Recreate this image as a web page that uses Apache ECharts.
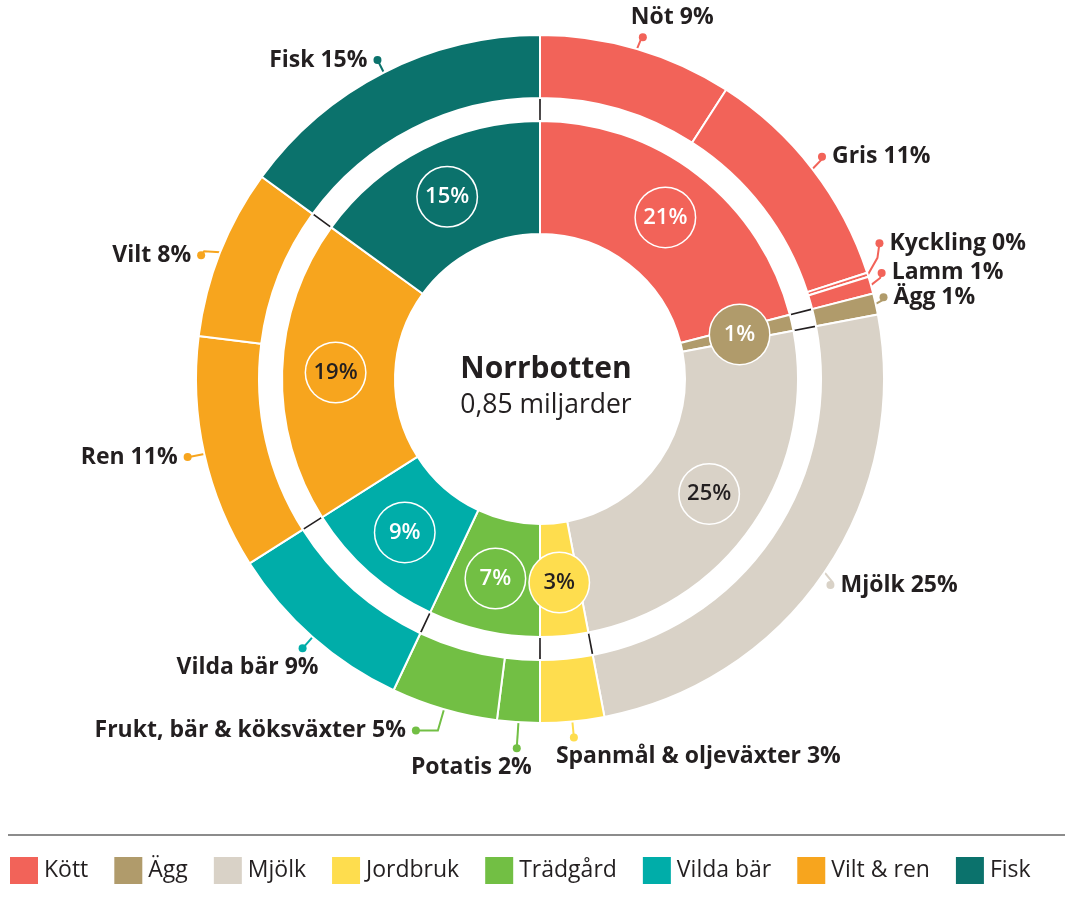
<!DOCTYPE html>
<html>
<head>
<meta charset="utf-8">
<title>Norrbotten</title>
<script src="https://cdn.jsdelivr.net/npm/echarts@6/dist/echarts.min.js"></script>
<style>
	html, body { margin: 0; padding: 0; background: #fff; }
	#main { width: 1065px; height: 900px; }
</style>
</head>
<body>
<div id="main"></div>
<script>
	// inre ringen - huvudgrupper
	var groupNames = ['Kött', 'Ägg', 'Mjölk', 'Jordbruk', 'Trädgård', 'Vilda bär', 'Vilt & ren', 'Fisk'];
	var groupValues = [21, 1, 25, 3, 7, 9, 19, 15];
	var groupColors = ['#f26359', '#b09b6b', '#d9d2c7', '#fedd4e', '#72bf44', '#00ada9', '#f7a51e', '#0b726c'];
	var groupTextColors = ['#fff', '#fff', '#231f20', '#231f20', '#fff', '#fff', '#231f20', '#fff'];

	// yttre ringen - undergrupper
	var itemNames = ['Nöt', 'Gris', 'Kyckling', 'Lamm', 'Ägg', 'Mjölk', 'Spanmål & oljeväxter', 'Potatis', 'Frukt, bär & köksväxter', 'Vilda bär', 'Ren', 'Vilt', 'Fisk'];
	var itemValues = [9.1, 10.9, 0.2, 0.8, 1, 25, 3, 2, 5, 9, 11, 8, 15];
	var itemGroup = [0, 0, 0, 0, 1, 2, 3, 4, 4, 5, 6, 6, 7];

	// etiketternas placering runt yttre ringen
	var labelSide = ['top', 'right', 'right', 'right', 'right', 'right', 'bottomL', 'bottomR', 'left', 'bottomR', 'left', 'left', 'left'];
	var lineLen = [10, 12, 8, 8, 8, 12, 16, 26, 22, 15, 14, 14, 14];
	var lineLen2 = [0, 0, 0, 0, 0, 0, 0, 0, 22, 0, 0, 0, 0];
	var textOffset = [12, 0, 0, 0, 0, 0, 18, 15, 0, 16, 0, 0, 0];
	var labelShift = [[3, -2], [0, -5], [4, -29], [3, -10], [0, -5], [-4, 6], [0, 0], [0, 0], [0, 0], [0, 0], [-3, 0], [-6, 8], [0, 0]];

	var FONT = 'Open Sans';
	var TEXT = '#231f20';

	var rich = {
		t: { fontFamily: FONT, fontSize: 23, fontWeight: 'bold', color: TEXT, lineHeight: 31 },
		g: { width: 6, height: 8, lineHeight: 8, fontSize: 1 }
	};
	for (var i = 0; i < itemNames.length; i++) {
		rich['d' + i] = { width: 8, height: 8, lineHeight: 8, fontSize: 1, borderRadius: 4, backgroundColor: groupColors[itemGroup[i]] };
		if (textOffset[i] > 0) {
			rich['s' + i] = { width: textOffset[i] - 4, height: 8, lineHeight: 8, fontSize: 1 };
		}
	}

	function outerLabel(p) {
		var i = p.dataIndex;
		var txt = '{t|' + itemNames[i] + ' ' + Math.round(itemValues[i]) + '%}';
		var dot = '{d' + i + '| }';
		var sp = '{s' + i + '| }';
		switch (labelSide[i]) {
			case 'right': return dot + '{g| }' + txt;
			case 'left': return txt + '{g| }' + dot;
			case 'top': return txt + '\n' + sp + dot;
			case 'bottomL': return sp + dot + '\n' + txt;
			case 'bottomR': return dot + sp + '\n' + txt;
		}
		return txt;
	}

	var innerData = groupNames.map(function(n, i) {
		return {
			name: n,
			value: groupValues[i],
			itemStyle: { color: groupColors[i] },
			label: { backgroundColor: groupColors[i], color: groupTextColors[i] }
		};
	});

	var outerData = itemNames.map(function(n, i) {
		return {
			name: n,
			value: itemValues[i],
			itemStyle: { color: groupColors[itemGroup[i]] },
			labelLine: { length: lineLen[i], length2: lineLen2[i] }
		};
	});

	var myChart = echarts.init(document.getElementById('main'));
	var center = [540, 379];

	option = {
		animation: false,
		title: {
			text: 'Norrbotten',
			subtext: '0,85 miljarder',
			left: 541,
			top: 349,
			textAlign: 'center',
			itemGap: 8,
			textStyle: { fontFamily: FONT, fontSize: 30, fontWeight: 'bold', color: TEXT },
			subtextStyle: { fontFamily: FONT, fontSize: 26.5, color: TEXT }
		},
		legend: {
			data: groupNames,
			left: 8,
			top: 855,
			padding: 0,
			icon: 'rect',
			itemWidth: 30,
			itemHeight: 29,
			itemGap: 24,
			selectedMode: false,
			textStyle: { fontFamily: FONT, fontSize: 23, color: TEXT }
		},
		graphic: [{
			type: 'line',
			shape: { x1: 8, y1: 835, x2: 1065, y2: 835 },
			style: { stroke: '#8c8c8c', lineWidth: 2 }
		}],
		series: [
			// mörk ring under mellanrummet, syns som små streck mellan grupperna
			{
				type: 'pie',
				center: center,
				radius: [259, 280],
				silent: true,
				label: { show: false },
				labelLine: { show: false },
				data: [{ value: 1, itemStyle: { color: TEXT } }]
			},
			{
				type: 'pie',
				center: center,
				radius: [256, 283],
				silent: true,
				padAngle: 0.35,
				label: { show: false },
				labelLine: { show: false },
				itemStyle: { color: '#fff' },
				data: groupValues.map(function(v) { return { value: v }; })
			},
			{
				name: 'Grupp',
				type: 'pie',
				center: center,
				radius: [145, 258],
				silent: true,
				itemStyle: { borderColor: '#fff', borderWidth: 2 },
				label: {
					position: 'inside',
					formatter: function(p) { return Math.round(p.value) + '%'; },
					fontFamily: FONT,
					fontSize: 22,
					fontWeight: 600,
					width: 59,
					height: 59,
					lineHeight: 59,
					align: 'center',
					borderRadius: 30,
					borderColor: '#fff',
					borderWidth: 1.5
				},
				labelLine: { show: false },
				data: innerData
			},
			{
				name: 'Del',
				type: 'pie',
				center: center,
				radius: [281, 344],
				silent: true,
				avoidLabelOverlap: false,
				itemStyle: { borderColor: '#fff', borderWidth: 2 },
				label: {
					position: 'outside',
					formatter: outerLabel,
					rich: rich,
					distanceToLabelLine: 0
				},
				labelLine: { show: true, length: 10, length2: 0, lineStyle: { width: 2 } },
				labelLayout: function(p) {
					var i = p.dataIndex;
					var pts = p.labelLinePoints;
					if (!pts) return {};
					var sh = labelShift[i];
					var last = pts[pts.length - 1];
					var ex = last[0] + sh[0], ey = last[1] + sh[1];
					var mid = [pts[1][0] + sh[0] / 2, pts[1][1] + sh[1] / 2];
					var line = [[pts[0][0], pts[0][1]], mid, [ex, ey]];
					var k = textOffset[i];
					switch (labelSide[i]) {
						case 'right': return { x: ex - 4, y: ey, align: 'left', verticalAlign: 'middle', labelLinePoints: line };
						case 'left': return { x: ex + 4, y: ey, align: 'right', verticalAlign: 'middle', labelLinePoints: line };
						case 'top': return { x: ex - k, y: ey + 4, align: 'left', verticalAlign: 'bottom', labelLinePoints: line };
						case 'bottomL': return { x: ex - k, y: ey - 4, align: 'left', verticalAlign: 'top', labelLinePoints: line };
						case 'bottomR': return { x: ex + k, y: ey - 4, align: 'right', verticalAlign: 'top', labelLinePoints: line };
					}
					return {};
				},
				data: outerData
			}
		]
	};
	myChart.setOption(option);
</script>
</body>
</html>
